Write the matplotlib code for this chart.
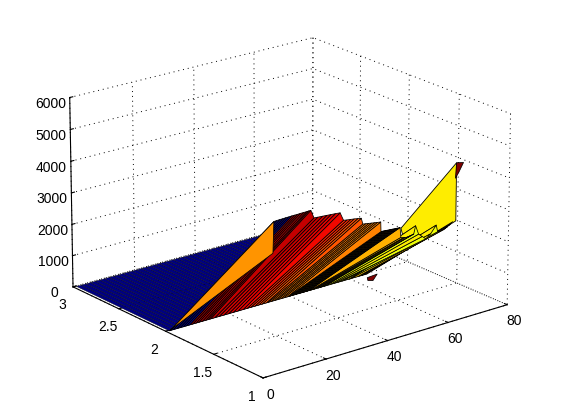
#!/usr/bin/env python3
"""MATLAB style 3D surface: folded sheet over x, with rows at y = 1, 2 and 3."""
import matplotlib
matplotlib.use("Agg")
import matplotlib.pyplot as plt
from mpl_toolkits.mplot3d.art3d import Poly3DCollection

plt.rcParams["font.family"] = ["Liberation Sans", "DejaVu Sans"]

# mesh columns: x at y = 2, x at y = 1 and height at y = 1 (height at y = 2 is zero)
row2_x = [1, 1.3, 2.3, 3.4, 4.4, 5.4, 6.4, 7.5, 8.5, 9.6, 10.5, 11.6, 12.6, 13.4, 14.2,
          15.6, 17, 18.6, 20.1, 21.6, 23.1, 24.8,
          26.1, 27.3, 28.6, 29.8, 31, 32.4,
          33, 34, 35.1, 36, 37.1, 38.1, 39.3,
          39.6, 40.2, 40.7, 41.3, 41.7, 42.2, 42.8, 43.3, 43.7, 44.3, 44.8, 45.4, 45.8, 46.4,
          47, 47.9, 48.4, 49.5, 49.9, 50.5, 51.6, 52.2, 53.3, 54.6, 56, 57.7, 59.8, 60.3, 62.8, 63.9, 64.9, 66]
row1_x = [3, 3.3, 4.2, 5.2, 6.1, 7, 7.9, 8.9, 9.8, 10.7, 11.6, 12.6, 13.5, 14.2, 14.9,
          15.9, 17.1, 18.6, 20, 21.3, 22.7, 24.2,
          25.3, 26.4, 27.6, 28.7, 29.9, 31,
          31.5, 32.4, 33.4, 34.3, 35.3, 36.2, 37.3,
          37.4, 37.9, 38.4, 38.9, 39.3, 39.8, 40.3, 40.8, 41.2, 41.7, 42.2, 42.7, 43.1, 43.6,
          43.9, 44.7, 45.2, 46.2, 46.6, 47.1, 48.1, 48.7, 49.7, 50.9, 52.1, 53.7, 55.5, 56, 58.2, 59.2, 60.1, 61]
row1_z = [3735, 4685, 4690, 4695, 4695, 4700, 4700, 4705, 4705, 4705, 4710, 4710, 4710, 4715, 4715,
          4460, 4450, 4440, 4430, 4420, 4410, 4395,
          4140, 4120, 4105, 4090, 4070, 4050,
          3860, 3845, 3830, 3815, 3800, 3785, 3770,
          3470, 3470, 3465, 3465, 3460, 3455, 3450, 3450, 3445, 3440, 3440, 3435, 3430, 3430,
          3120, 3090, 3080, 3070, 3080, 3090, 3110, 3350, 3065, 2960, 2855, 2970, 3190, 2970, 2990, 3040, 3090, 3150]
# colour value of the cell that starts at each column (last column has none)
cell_c = [0.75, 1, 1, 1, 1, 1, 1, 0.98, 0.98, 0.96, 0.96, 0.95, 0.94, 0.94, 0.94,
          0.93, 0.93, 0.92, 0.92, 0.91, 0.91, 0.9,
          0.87, 0.87, 0.85, 0.83, 0.82, 0.82,
          0.78, 0.78, 0.78, 0.77, 0.77, 0.77, 0.77,
          0.72, 0.72, 0.72, 0.72, 0.72, 0.72, 0.72, 0.72, 0.72, 0.72, 0.72, 0.72, 0.72, 0.72,
          0.7, 0.66, 0.68, 0.66, 0.66, 0.64, 0.66, 0.64, 0.66, 0.64, 0.66, 0.66, 0.64, 0.7, 0.7, 0.7, 0.7]

# columns of the flat blue part between y = 2 and y = 3
blue_x = [1, 2.5, 4, 5.5, 7, 8.5, 10, 11.5, 13, 14.5, 16, 17.5, 19, 20.5, 22, 23.5, 25, 26.5,
          28, 29.5, 31, 32.5, 34, 35.5, 37, 38.5, 40, 41.5, 43, 44.5, 46, 47.5, 49, 50.5,
          52, 53.5, 55, 56.5, 58, 59.5, 61, 62.5, 64, 66]

# big yellow flap and the small dark pieces, in the plane y = 1 and on the floor
flap_x = [43.9, 62, 62, 56.5, 44.7]
flap_z = [3400, 4950, 3150, 2970, 3090]
peak_x = [62, 64.3, 62.8, 61.7]
peak_z = [4950, 4900, 4640, 4480]
foot_x = [64.3, 68, 64.1, 63.1]
foot_y = [1.946, 1.957, 1.882, 1.903]

x_ticks = [0, 20, 40, 60, 80]
y_ticks = [1, 1.5, 2, 2.5, 3]
y_labels = ["1", "1.5", "2", "2.5", "3"]
z_ticks = [0, 1000, 2000, 3000, 4000, 5000, 6000]

EL, AZ, FOCAL = 20, -128.5, 2.0

fig = plt.figure(figsize=(5.61, 4.2), dpi=100, facecolor="white")
ax = fig.add_axes([0.005, 0.007, 1.0, 1.0], projection="3d", computed_zorder=False)
ax.set_proj_type("persp", focal_length=FOCAL)
ax.view_init(elev=EL, azim=AZ)
ax.set_box_aspect((1, 1, 0.65), zoom=1.12)
ax.set_xlim(0, 80)
ax.set_ylim(1, 3)
ax.set_zlim(0, 6000)
ax.set_xticks(x_ticks)
ax.set_yticks(y_ticks)
ax.set_yticklabels(y_labels)
ax.set_zticks(z_ticks)
ax.tick_params(labelsize=10, pad=-1, colors="black")
ax.tick_params(axis="x", pad=-2.5)
for axis in (ax.xaxis, ax.yaxis, ax.zaxis):
    axis.set_pane_color((1, 1, 1, 0))
    axis.pane.set_edgecolor((1, 1, 1, 0))
    axis.line.set_color("black")
    axis.line.set_linewidth(0.8)
    axis._axinfo["grid"].update(color="black", linestyle=(0, (1, 4)), linewidth=0.7)
    axis._axinfo["tick"].update(inward_factor=0.0, outward_factor=0.15)

jet = matplotlib.colormaps["jet"]
order = 0


def add_poly(points, value, lw=0.55):
    global order
    order += 1
    poly = Poly3DCollection([points], facecolors=[jet(value)], edgecolors="black",
                            linewidths=lw, zorder=order)
    ax.add_collection3d(poly)


for i in range(len(blue_x) - 1):
    add_poly([(blue_x[i], 3, 0), (blue_x[i + 1], 3, 0), (blue_x[i + 1], 2, 0), (blue_x[i], 2, 0)], 0.0, 0.25)

add_poly(list(zip(foot_x, foot_y, [0] * 4)), 1.0)
add_poly(list(zip(flap_x, [1] * 5, flap_z)), 0.66, 0.6)
add_poly(list(zip(peak_x, [1] * 4, peak_z)), 1.0)

# folded part between y = 2 and y = 1, far columns first so the near ones cover them
for i in range(len(row1_x) - 2, -1, -1):
    add_poly([(row2_x[i], 2, 0), (row2_x[i + 1], 2, 0),
              (row1_x[i + 1], 1, row1_z[i + 1]), (row1_x[i], 1, row1_z[i])], cell_c[i])

fig.savefig("out.png", dpi=100)
